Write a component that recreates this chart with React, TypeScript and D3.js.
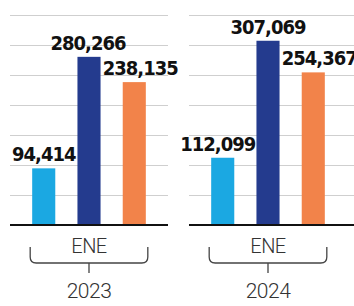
import { useEffect, useRef } from 'react'
import * as d3 from 'd3'

const years = ['2023', '2024']
const month = 'ENE'
const seriesKeys = ['a', 'b', 'c']
const seriesA = [94414, 112099]
const seriesB = [280266, 307069]
const seriesC = [238135, 254367]
const gridTicks = [0, 50000, 100000, 150000, 200000, 250000, 300000, 350000]

const colors = { a: '#1ba8e2', b: '#243b8e', c: '#f2834a' }
// small horizontal nudges of the value labels, per series and year
const labelShift = { a: [0, -5], b: [-1, 0], c: [6, 6] }

export default function App() {
  const svgRef = useRef<SVGSVGElement>(null)

  useEffect(() => {
    if (!svgRef.current) return
    const svg = d3.select(svgRef.current)
    svg.selectAll('*').remove()

    const width = 354

    const y = d3.scaleLinear().domain([0, 350000]).range([225, 15])

    const x0 = d3.scaleBand()
      .domain(years)
      .range([10, 347])
      .paddingInner(0.1173)

    const x1 = d3.scaleBand()
      .domain(seriesKeys)
      .range([0, x0.bandwidth()])
      .padding(0.49)

    const values = { a: seriesA, b: seriesB, c: seriesC }
    const fmt = d3.format(',')

    years.forEach((yr, i) => {
      const px = x0(yr)!
      const g = svg.append('g').attr('transform', `translate(${px},0)`)
      const right = i === years.length - 1 ? width - px : x0.bandwidth()

      g.selectAll('.grid')
        .data(gridTicks.slice(1))
        .enter().append('line')
        .attr('x1', 0)
        .attr('x2', right)
        .attr('y1', d => y(d) + 0.5)
        .attr('y2', d => y(d) + 0.5)
        .attr('stroke', '#cfcfcf')
        .attr('stroke-width', 1)

      seriesKeys.forEach(k => {
        const v = values[k][i]
        g.append('rect')
          .attr('x', x1(k)!)
          .attr('y', y(v))
          .attr('width', x1.bandwidth())
          .attr('height', y(0) - y(v))
          .attr('fill', colors[k])

        g.append('text')
          .attr('x', x1(k)! + x1.bandwidth() / 2 + labelShift[k][i])
          .attr('y', y(v) - 7)
          .attr('text-anchor', 'middle')
          .style('font-family', '"DejaVu Sans Condensed", "Liberation Sans Narrow", Roboto, sans-serif')
          .style('font-weight', 'bold')
          .style('font-size', '20px')
          .style('letter-spacing', '-1px')
          .attr('fill', '#111')
          .text(fmt(v))
      })

      g.append('line')
        .attr('x1', 0)
        .attr('x2', right)
        .attr('y1', y(0))
        .attr('y2', y(0))
        .attr('stroke', '#111')
        .attr('stroke-width', 2)

      const cx = x0.bandwidth() / 2
      g.append('text')
        .attr('x', cx)
        .attr('y', 253)
        .attr('text-anchor', 'middle')
        .style('font-family', 'Roboto, sans-serif')
        .style('font-weight', 300)
        .style('font-size', '20px')
        .style('letter-spacing', '-0.5px')
        .attr('fill', '#333')
        .text(month)

      const bl = x1('a')! - 2
      const br = x1('c')! + x1.bandwidth() + 2
      const top = 247
      const bot = 263
      const r = 6
      const path = d3.path()
      path.moveTo(bl, top)
      path.lineTo(bl, bot - r)
      path.quadraticCurveTo(bl, bot, bl + r, bot)
      path.lineTo(br - r, bot)
      path.quadraticCurveTo(br, bot, br, bot - r)
      path.lineTo(br, top)
      path.moveTo(cx, bot)
      path.lineTo(cx, 273)
      g.append('path')
        .attr('d', path.toString())
        .attr('fill', 'none')
        .attr('stroke', '#444')
        .attr('stroke-width', 1.3)

      g.append('text')
        .attr('x', cx)
        .attr('y', 298)
        .attr('text-anchor', 'middle')
        .style('font-family', 'Roboto, sans-serif')
        .style('font-weight', 300)
        .style('font-size', '21px')
        .style('letter-spacing', '-0.5px')
        .attr('fill', '#333')
        .text(yr)
    })
  }, [])

  return (
    <svg
      ref={svgRef}
      width={354}
      height={306}
      style={{ position: 'absolute', left: 0, top: 0, background: '#fff' }}
    />
  )
}
